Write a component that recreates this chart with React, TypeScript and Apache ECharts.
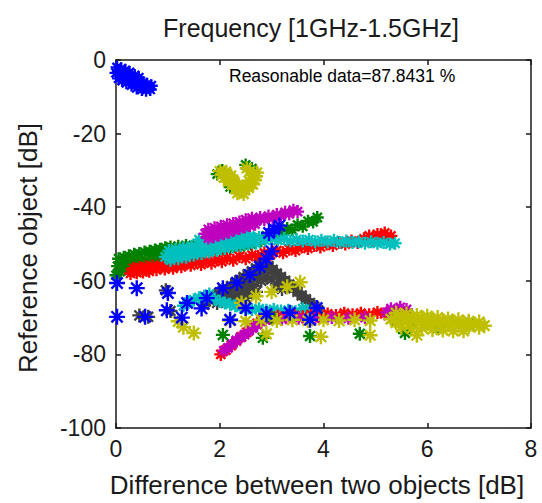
import React, { useEffect, useRef } from "react";
import * as echarts from "echarts";

const titleText = "Frequency [1GHz-1.5GHz]";
const xName = "Difference between two objects [dB]";
const yName = "Reference object [dB]";
const noteText = "Reasonable data=87.8431 %";

const xTicks = [0, 2, 4, 6, 8];
const yTicks = [-100, -80, -60, -40, -20, 0];

const blueTop = [
  [0.0, -3.5], [0.05, -3.0], [0.08, -4.2], [0.12, -3.6], [0.15, -4.8], [0.18, -4.0], [0.22, -5.2], [0.25, -4.5],
  [0.28, -5.6], [0.32, -5.0], [0.35, -6.0], [0.38, -5.4], [0.42, -6.4], [0.45, -5.8], [0.48, -6.8], [0.52, -6.2],
  [0.55, -7.0], [0.6, -6.6], [0.63, -7.4], [0.68, -7.0],
  [0.02, -2.0], [0.1, -2.4], [0.18, -2.8], [0.26, -3.4], [0.05, -5.0], [0.12, -5.6], [0.2, -6.2], [0.3, -6.8],
  [0.4, -7.6], [0.5, -8.0], [0.58, -8.2], [0.66, -8.0], [0.36, -4.2], [0.44, -4.8],
];

const greenUpper = [
  [0.0, -58.5], [0.03, -56.0], [0.08, -57.5], [0.12, -55.2], [0.18, -56.8], [0.24, -55.0], [0.3, -56.5], [0.36, -54.6],
  [0.42, -56.0], [0.5, -54.2], [0.58, -55.6], [0.66, -53.8], [0.74, -55.0], [0.82, -53.4], [0.9, -54.6], [0.98, -53.0],
  [1.06, -54.2], [1.14, -52.6], [1.22, -53.8], [1.3, -52.2], [1.4, -53.2], [1.5, -51.8], [1.6, -52.8], [1.7, -51.4],
  [1.8, -52.2], [1.9, -51.0], [2.0, -51.8], [2.1, -50.6], [2.2, -51.2], [2.3, -50.2], [2.4, -50.8], [2.5, -49.8],
  [2.6, -50.0], [2.7, -48.8], [2.8, -49.2], [2.9, -47.8], [3.0, -48.2], [3.1, -46.8], [3.2, -47.2], [3.3, -45.8],
  [3.4, -46.2], [3.5, -44.8], [3.6, -45.2], [3.7, -43.8], [3.8, -44.0], [3.88, -42.8],
  [0.05, -54.0], [0.15, -53.6], [0.25, -53.2], [0.35, -52.8], [0.45, -52.6], [0.55, -52.2], [0.65, -52.0], [0.75, -51.6],
  [0.85, -51.4], [0.95, -51.0], [1.05, -50.8], [1.2, -50.6], [1.35, -50.4], [1.55, -50.2], [1.75, -49.8],
  [1.95, -31.0], [2.05, -30.0], [2.5, -28.5], [2.62, -29.5], [2.2, -34.5],
];

const yellowU = [
  [2.0, -30.2], [2.04, -31.2], [2.08, -32.0], [2.12, -31.0], [2.16, -33.0], [2.2, -32.0], [2.24, -34.0], [2.28, -33.0],
  [2.32, -35.0], [2.36, -34.0], [2.4, -35.6], [2.44, -34.6], [2.48, -35.4], [2.52, -34.2], [2.56, -34.8], [2.6, -33.6],
  [2.64, -33.8], [2.68, -32.6], [2.7, -31.6], [2.64, -31.0], [2.58, -30.2], [2.52, -29.4], [2.62, -32.4], [2.56, -32.8],
  [2.26, -32.6], [2.22, -31.4], [2.12, -30.4], [2.34, -36.2], [2.46, -36.4], [2.72, -30.6],
];

const redUpper = [
  [0.28, -58.0], [0.34, -56.6], [0.4, -57.8], [0.46, -56.4], [0.52, -57.6], [0.58, -56.2], [0.64, -57.4], [0.7, -56.0],
  [0.78, -57.0], [0.86, -55.8], [0.94, -56.8], [1.02, -55.6], [1.1, -56.6], [1.18, -55.4], [1.26, -56.2], [1.34, -55.0],
  [1.44, -55.8], [1.54, -54.8], [1.64, -55.6], [1.74, -54.6], [1.84, -55.2], [1.94, -54.2], [2.04, -54.8], [2.14, -53.8],
  [2.26, -54.4], [2.38, -53.4], [2.5, -54.0], [2.62, -53.0], [2.74, -53.4], [2.86, -52.4], [2.98, -52.8], [3.1, -51.8],
  [3.22, -52.4], [3.34, -51.4], [3.46, -51.8], [3.58, -50.8], [3.7, -51.2], [3.82, -50.4], [3.94, -50.8], [4.06, -50.0],
  [4.18, -50.4], [4.3, -49.6], [4.42, -50.0], [4.54, -49.2], [4.66, -49.6], [4.78, -48.6], [4.88, -47.8], [4.96, -49.0],
  [5.04, -47.4], [5.1, -48.4], [5.18, -47.0], [5.24, -48.8], [5.3, -47.8],
];

const cyanUpper = [
  [0.95, -53.5], [1.02, -51.8], [1.08, -53.0], [1.15, -51.4], [1.22, -52.6], [1.3, -51.0], [1.38, -52.2], [1.46, -50.6],
  [1.54, -51.8], [1.62, -50.2], [1.7, -51.4], [1.78, -49.8], [1.86, -51.0], [1.94, -49.4], [2.02, -50.4], [2.1, -49.0],
  [2.18, -50.0], [2.26, -48.6], [2.34, -49.6], [2.42, -48.2], [2.5, -49.2], [2.58, -47.8], [2.66, -48.8], [2.76, -48.2],
  [2.88, -49.0], [3.0, -48.4], [3.12, -49.0], [3.24, -48.6], [3.36, -49.2], [3.48, -48.8], [3.6, -49.2], [3.72, -48.8],
  [3.84, -49.4], [3.96, -49.0], [4.08, -49.4], [4.2, -49.0], [4.32, -49.6], [4.44, -49.2], [4.56, -49.6], [4.68, -49.4],
  [4.8, -49.8], [4.92, -49.4], [5.04, -49.8], [5.16, -49.6], [5.28, -50.0], [5.38, -49.8],
  [1.05, -54.4], [1.2, -54.0], [1.35, -53.6], [1.5, -53.0], [1.65, -52.6], [1.8, -52.2], [1.95, -51.8], [2.1, -51.2],
  [2.25, -50.8], [2.4, -50.4], [2.55, -50.0], [2.7, -49.8], [1.6, -48.8], [1.9, -48.0], [2.2, -47.2], [2.45, -46.6],
];

const magentaUpper = [
  [1.72, -47.2], [1.78, -46.0], [1.84, -47.0], [1.9, -45.6], [1.96, -46.6], [2.02, -45.2], [2.08, -46.2], [2.14, -44.8],
  [2.2, -45.8], [2.26, -44.4], [2.32, -45.2], [2.38, -44.0], [2.44, -44.6], [2.5, -43.4], [2.56, -44.2], [2.62, -43.0],
  [2.7, -43.8], [2.78, -42.8], [2.86, -43.4], [2.94, -42.4], [3.02, -43.0], [3.1, -42.0], [3.18, -42.4], [3.26, -41.4],
  [3.34, -41.8], [3.42, -40.8], [3.5, -41.2],
  [1.78, -48.4], [1.88, -48.0], [1.98, -47.6], [2.08, -47.2], [2.18, -46.8], [2.28, -46.2], [2.38, -45.8], [2.48, -45.4],
  [2.58, -45.0], [2.68, -44.6],
];

const grayMid = [
  [1.7, -66.5], [1.8, -65.2], [1.9, -64.2], [1.98, -63.4], [2.06, -62.6], [2.14, -62.0], [2.22, -61.4], [2.3, -60.6],
  [2.38, -59.8], [2.46, -59.0], [2.54, -58.2], [2.62, -57.4], [2.7, -56.6], [2.78, -55.8], [2.86, -55.2], [2.94, -56.0],
  [3.02, -57.0], [3.1, -58.0], [3.18, -59.0], [3.26, -60.0], [3.34, -61.0], [3.42, -62.0], [3.5, -63.0], [3.58, -64.0],
  [3.66, -65.0], [3.74, -66.0], [3.82, -67.0], [3.9, -68.0],
  [1.95, -66.0], [2.05, -65.4], [2.15, -65.0], [2.25, -64.6], [2.35, -64.0], [2.45, -63.2], [2.55, -62.4], [2.65, -61.4],
  [2.4, -62.0], [2.2, -63.0], [2.6, -60.0], [2.75, -59.0], [2.0, -64.0], [2.1, -63.6], [2.3, -62.6], [2.5, -61.0],
  [2.7, -58.0], [2.85, -57.0], [2.8, -60.0], [2.9, -58.8], [3.0, -59.6], [3.1, -61.0], [3.2, -62.2], [2.5, -64.6],
  [2.7, -63.0],
  [0.45, -69.4], [0.62, -69.8], [0.96, -62.6], [1.05, -68.2],
];

const cyanLower = [
  [1.3, -66.8], [1.4, -65.8], [1.5, -65.2], [1.6, -64.6], [1.7, -64.2], [1.8, -63.6], [1.9, -65.0], [2.0, -65.6],
  [2.1, -66.0], [2.2, -66.4], [2.3, -66.8], [2.4, -67.2], [2.5, -67.6], [2.62, -67.8], [2.76, -67.6], [2.9, -68.0],
  [3.04, -67.8], [3.18, -68.2], [3.32, -68.0], [3.46, -68.4], [3.6, -67.6], [3.7, -68.2], [3.85, -69.0], [4.0, -69.4],
];

const redLower = [
  [2.02, -80.0], [2.12, -78.8], [2.22, -77.6], [2.32, -76.4], [2.42, -75.2], [2.52, -74.0], [2.62, -72.8], [2.72, -71.6],
  [2.82, -70.6], [2.96, -70.2], [3.12, -69.6], [3.28, -70.0], [3.44, -69.4], [3.6, -69.8], [3.76, -69.2], [3.92, -69.6],
  [4.08, -69.0], [4.24, -69.4], [4.4, -68.8], [4.56, -69.2], [4.72, -68.8], [4.88, -69.2], [5.04, -68.6], [5.18, -69.0],
];

const magentaLower = [
  [2.08, -79.0], [2.16, -78.2], [2.24, -77.2], [2.32, -76.2], [2.4, -75.4], [2.48, -74.6], [2.56, -73.6], [2.64, -72.8],
  [2.72, -72.0], [2.8, -71.0], [2.88, -70.6], [2.96, -70.0],
  [3.2, -70.4], [3.52, -70.2], [3.84, -70.4], [4.16, -70.0], [4.48, -70.2], [4.8, -70.0],
  [5.22, -68.6], [5.3, -67.6], [5.36, -69.0], [5.42, -68.0], [5.48, -67.2], [5.54, -68.6], [5.6, -67.8],
];

const greenLower = [
  [2.06, -74.7], [2.83, -75.5], [3.74, -75.0], [4.7, -74.4], [5.57, -74.2], [6.2, -72.8], [5.4, -70.8], [5.7, -71.4],
  [6.0, -70.6], [6.4, -71.2], [6.8, -71.6], [3.0, -70.0],
];

const yellowLower = [
  [1.3, -72.6], [1.5, -74.2], [1.2, -71.0], [2.42, -66.0], [2.7, -64.2], [3.0, -63.0], [3.3, -61.6], [3.55, -60.4],
  [2.9, -74.4], [3.95, -75.2], [4.9, -74.8], [5.8, -74.8],
  [2.2, -70.8], [2.5, -71.0], [2.8, -70.6], [3.1, -70.8], [3.4, -70.6], [3.7, -70.8], [4.0, -70.6], [4.3, -70.8],
  [4.6, -70.6], [4.9, -70.8],
  [5.3, -70.4], [5.4, -71.4], [5.5, -69.8], [5.6, -71.0], [5.7, -70.2], [5.8, -71.4], [5.9, -70.4], [6.0, -71.6],
  [6.1, -70.8], [6.2, -71.8], [6.3, -71.0], [6.4, -72.0], [6.5, -71.2], [6.6, -72.2], [6.7, -71.6], [6.8, -72.4],
  [6.9, -71.8], [7.0, -72.6], [7.1, -72.2],
  [5.5, -72.6], [5.7, -73.0], [5.9, -72.8], [6.1, -73.2], [6.3, -73.4], [6.5, -73.6], [6.7, -73.6], [5.4, -68.8],
  [5.6, -69.0], [5.8, -69.4], [6.0, -69.6], [6.2, -70.0], [6.4, -70.4], [6.6, -70.6], [6.8, -71.0], [7.0, -71.2],
];

const blueLower = [
  [0.02, -60.6], [0.4, -62.0], [1.0, -63.3], [1.37, -66.0], [1.75, -64.7], [2.06, -62.0], [2.33, -60.5], [2.58, -58.4],
  [2.77, -56.2], [2.9, -54.0], [3.0, -52.0], [2.95, -47.0], [3.05, -46.0], [3.15, -45.0],
  [0.02, -69.8], [0.56, -69.8], [0.98, -68.0], [1.27, -70.0], [1.65, -67.5], [2.2, -70.6], [2.5, -67.4], [2.9, -69.0],
  [3.35, -68.7], [3.74, -70.6], [3.87, -67.4],
];

const BLUE = "#0000ff";
const GREEN = "#008000";
const RED = "#ff0000";
const CYAN = "#00bfbf";
const MAGENTA = "#bf00bf";
const YELLOW = "#bfbf00";
const GRAY = "#404040";

const star = "path://M0,-10L0,10M-10,0L10,0M-7,-7L7,7M-7,7L7,-7";
const FONT = "'Liberation Sans', Arial, sans-serif";
const INK = "#1a1a1a";

function mk(data: number[][], color: string, size: number) {
  return {
    type: "scatter",
    data,
    symbol: star,
    symbolSize: size,
    clip: false,
    silent: true,
    itemStyle: { color, borderColor: color, borderWidth: 2.4, opacity: 1 },
  };
}

export default function App() {
  const ref = useRef<HTMLDivElement>(null);
  useEffect(() => {
    if (!ref.current) return;
    const chart = echarts.init(ref.current, null, { renderer: "svg" });
    const axisLine = { show: true, onZero: false, lineStyle: { color: INK, width: 1.5 } };
    const tick = { show: true, inside: true, length: 5, lineStyle: { color: INK, width: 1.5 } };
    chart.setOption({
      animation: false,
      backgroundColor: "#ffffff",
      grid: { left: 116, right: 11, top: 60, bottom: 75, containLabel: false },
      xAxis: [
        {
          type: "value", min: xTicks[0], max: xTicks[xTicks.length - 1], interval: 2, position: "bottom",
          axisLine, axisTick: tick, splitLine: { show: false },
          axisLabel: { color: INK, fontSize: 23, fontFamily: FONT, margin: 9 },
        },
        {
          type: "value", min: xTicks[0], max: xTicks[xTicks.length - 1], interval: 2, position: "top",
          axisLine, axisTick: tick, splitLine: { show: false }, axisLabel: { show: false },
        },
      ],
      yAxis: [
        {
          type: "value", min: yTicks[0], max: yTicks[yTicks.length - 1], interval: 20, position: "left",
          axisLine, axisTick: tick, splitLine: { show: false },
          axisLabel: { color: INK, fontSize: 23, fontFamily: FONT, margin: 10 },
        },
        {
          type: "value", min: yTicks[0], max: yTicks[yTicks.length - 1], interval: 20, position: "right",
          axisLine, axisTick: tick, splitLine: { show: false }, axisLabel: { show: false },
        },
      ],
      graphic: [
        { type: "text", x: 311, y: 28, style: { text: titleText, fontSize: 25, fontFamily: FONT, fill: INK, textAlign: "center", textVerticalAlign: "middle" } },
        { type: "text", x: 317, y: 485, style: { text: xName, fontSize: 26, fontFamily: FONT, fill: INK, textAlign: "center", textVerticalAlign: "middle" } },
        { type: "text", x: 28, y: 248, rotation: Math.PI / 2, style: { text: yName, fontSize: 26, fontFamily: FONT, fill: INK, textAlign: "center", textVerticalAlign: "middle" } },
        { type: "text", x: 229, y: 76, style: { text: noteText, fontSize: 17.5, fontFamily: FONT, fill: "#000", textAlign: "left", textVerticalAlign: "middle" } },
      ],
      series: [
        mk(greenUpper, GREEN, 13),
        mk(yellowU, YELLOW, 14),
        mk(redUpper, RED, 13),
        mk(cyanUpper, CYAN, 13),
        mk(magentaUpper, MAGENTA, 13),
        mk(grayMid, GRAY, 14),
        mk(cyanLower, CYAN, 13),
        mk(redLower, RED, 13),
        mk(magentaLower, MAGENTA, 13),
        mk(greenLower, GREEN, 14),
        mk(yellowLower, YELLOW, 15),
        mk(blueTop, BLUE, 13),
        mk(blueLower, BLUE, 16),
      ],
    });
    return () => chart.dispose();
  }, []);
  return <div ref={ref} style={{ width: 542, height: 503, position: "absolute", left: 0, top: 0 }} />;
}
